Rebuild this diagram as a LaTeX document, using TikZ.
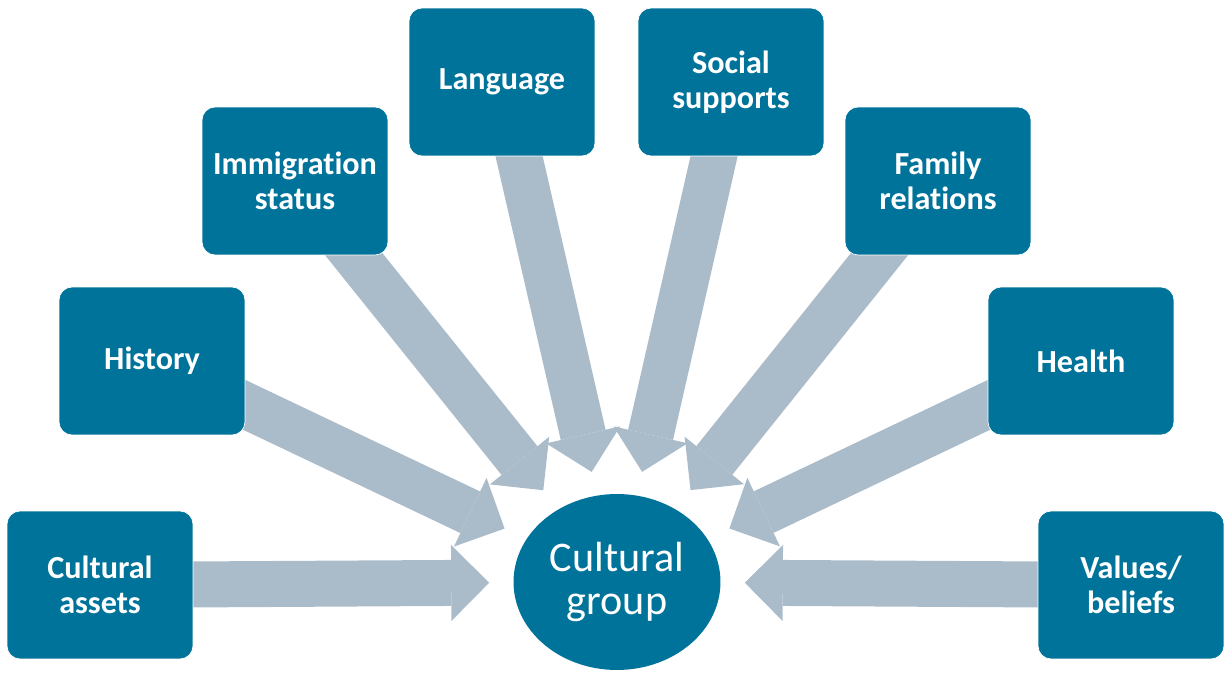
\documentclass[tikz,border=0pt]{standalone}
\usepackage{fontspec}
\setmainfont[Ligatures=NoCommon]{Carlito}
\usepackage{xcolor}
\definecolor{GroupTeal}{HTML}{00739A}
\definecolor{ArrowGray}{HTML}{AABBCA}
\usepackage{tikz}
\usetikzlibrary{arrows.meta,shapes.geometric,backgrounds}

\begin{document}
\begin{tikzpicture}[x=0.02cm,y=-0.02cm,box/.style={draw=white,fill=GroupTeal,rounded corners=0.26cm,minimum width=3.72cm,minimum height=2.96cm,align=center,text=white,font=\fontsize{18.3}{19.8}\selectfont\bfseries},flow/.style={ArrowGray,line width=0.92cm,-{Triangle[length=0.76cm,width=1.52cm,line width=0pt]}}]
\useasboundingbox (0,0) rectangle (1225,675);
\node[box] (assets) at (100,585) {Cultural\\assets};
\node[box] (hist) at (152,361) {History};
\node[box] (immig) at (295,181) {Immigration\\status};
\node[box] (lang) at (502,82) {Language};
\node[box] (social) at (731,82) {Social\\supports};
\node[box] (family) at (938,181) {Family\\relations};
\node[box] (health) at (1081,361) {Health};
\node[box] (values) at (1131,585) {Values/\\beliefs};
\node[ellipse,fill=GroupTeal,minimum width=4.14cm,minimum height=3.52cm,inner sep=0pt,text=white,align=center,font=\fontsize{24}{24.6}\selectfont] (grp) at (617,582) {Cultural\\group};
\node[ellipse,minimum width=5.1cm,minimum height=4.48cm,inner sep=0pt] (ring) at (617,582) {};
\begin{scope}[on background layer]
\draw[flow](assets.center)--(ring);\draw[flow](hist.center)--(ring);\draw[flow](immig.center)--(ring);\draw[flow](lang.center)--(ring);
\draw[flow](social.center)--(ring);\draw[flow](family.center)--(ring);\draw[flow](health.center)--(ring);\draw[flow](values.center)--(ring);
\end{scope}
\end{tikzpicture}
\end{document}
